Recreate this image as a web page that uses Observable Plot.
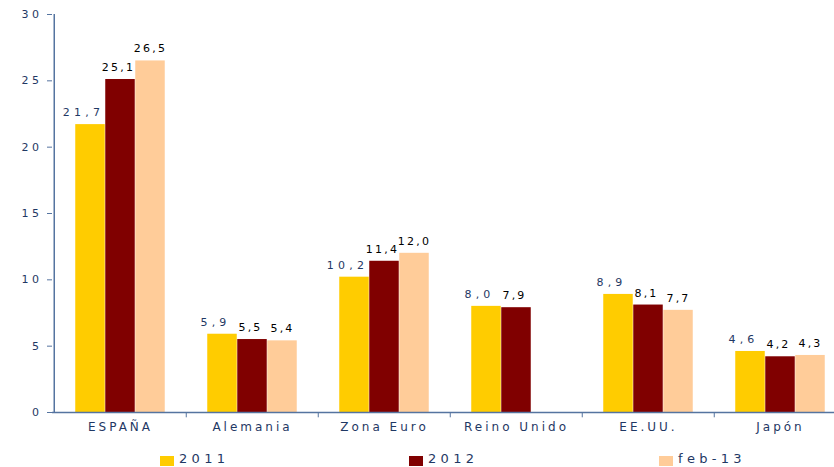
<!DOCTYPE html>
<html>
<head>
<meta charset="utf-8">
<script src="https://cdn.jsdelivr.net/npm/d3@7"></script>
<script src="https://cdn.jsdelivr.net/npm/@observablehq/plot@0.6"></script>
<style>
  html, body { margin: 0; padding: 0; background: #fff; overflow: hidden; }
  #chart { width: 834px; height: 467px; position: relative; font-family: "DejaVu Sans", sans-serif; }
  #chart svg { display: block; overflow: visible; }
  text.lbl-2011 { letter-spacing: 4.2px; }
  text.lbl-2012, text.lbl-feb-13 { letter-spacing: 2.2px; }
  g[aria-label="y-axis tick label"] text { letter-spacing: 3.5px; }
  g[aria-label="x-axis tick label"] text { letter-spacing: 3px; }
  .legend { position: absolute; left: 0; top: 445px; width: 834px; height: 22px; }
  .legend .item { position: absolute; top: 0; height: 22px; }
  .legend .sw { position: absolute; left: 0; top: 11px; width: 14px; height: 10px; }
  .legend .tx { position: absolute; left: 19px; top: 6px; font-size: 13px; line-height: 15px; letter-spacing: 4.3px; color: #1F3864; white-space: nowrap; }
</style>
</head>
<body>
<div id="chart"></div>
<script>
const countries = ["ESPAÑA", "Alemania", "Zona Euro", "Reino Unido", "EE.UU.", "Japón"];
const series = ["2011", "2012", "feb-13"];
const values2011 = [21.7, 5.9, 10.2, 8.0, 8.9, 4.6];
const values2012 = [25.1, 5.5, 11.4, 7.9, 8.1, 4.2];
const valuesFeb13 = [26.5, 5.4, 12.0, null, 7.7, 4.3];
const seriesColors = ["#FFCC00", "#800000", "#FFCC99"];
const yTicks = [0, 5, 10, 15, 20, 25, 30];

const navy = "#1F3864";
const axisColor = "#5574A0";

const valueSets = [values2011, values2012, valuesFeb13];
const rows = [];
series.forEach((s, i) => {
  countries.forEach((c, j) => {
    const v = valueSets[i][j];
    if (v != null) rows.push({country: c, series: s, value: v});
  });
});

const fmt = v => d3.format(".1f")(v).replace(".", ",");

const xLeft = 52, xRight = 847;
const step = (xRight - xLeft) / countries.length;
const barW = 30;
const inset = (step - barW) / 2;
const labelDx = [-7, -2, 0];
const labelFill = [navy, "#000", "#000"];

const marks = [];
series.forEach((s, i) => {
  const sub = rows.filter(d => d.series === s);
  marks.push(Plot.barY(sub, {
    x: "country", y: "value", fill: "series",
    dx: (i - 1) * barW, insetLeft: inset, insetRight: inset
  }));
});
series.forEach((s, i) => {
  const sub = rows.filter(d => d.series === s);
  marks.push(Plot.text(sub, {
    x: "country", y: "value", text: d => fmt(d.value),
    dx: (i - 1) * barW + labelDx[i], dy: -12,
    fill: labelFill[i], fontSize: 11,
    ariaDescription: "lbl-" + s
  }));
});

const plot = Plot.plot({
  width: 834,
  height: 445,
  marginTop: 14,
  marginBottom: 33,
  marginLeft: 52,
  marginRight: 0,
  style: {fontFamily: "'DejaVu Sans', sans-serif", background: "transparent"},
  x: {domain: countries, range: [xLeft, xRight], padding: 0, label: null},
  y: {domain: [0, 30], label: null},
  color: {domain: series, range: seriesColors},
  marks: [
    ...marks,
    Plot.ruleY([0], {stroke: axisColor, strokeWidth: 1.5}),
    Plot.ruleX([countries[0]], {x: d => d, dx: -step / 2, stroke: axisColor, strokeWidth: 1.5}),
    Plot.ruleX(countries.slice(1), {x: d => d, dx: -step / 2, y1: 0, y2: -0.4, stroke: axisColor}),
    Plot.axisY({ticks: yTicks, tickSize: 5, tickPadding: 5, stroke: axisColor, fill: navy, fontSize: 11, label: null, tickFormat: d => String(d)}),
    Plot.axisX({tickSize: 0, tickPadding: 10, fill: navy, fontSize: 12, label: null})
  ]
});

const chart = document.getElementById("chart");
chart.appendChild(plot);

// tag value-label texts with a class per series for letter spacing
d3.select(plot).selectAll("g[aria-description]").each(function () {
  const cls = this.getAttribute("aria-description");
  d3.select(this).selectAll("text").classed(cls, true);
});

const legend = d3.select(chart).append("div").attr("class", "legend");
const legendLeft = [160, 409, 659];
series.forEach((s, i) => {
  const item = legend.append("div").attr("class", "item").style("left", legendLeft[i] + "px");
  item.append("div").attr("class", "sw").style("background", seriesColors[i]);
  item.append("div").attr("class", "tx").text(s);
});
</script>
</body>
</html>
